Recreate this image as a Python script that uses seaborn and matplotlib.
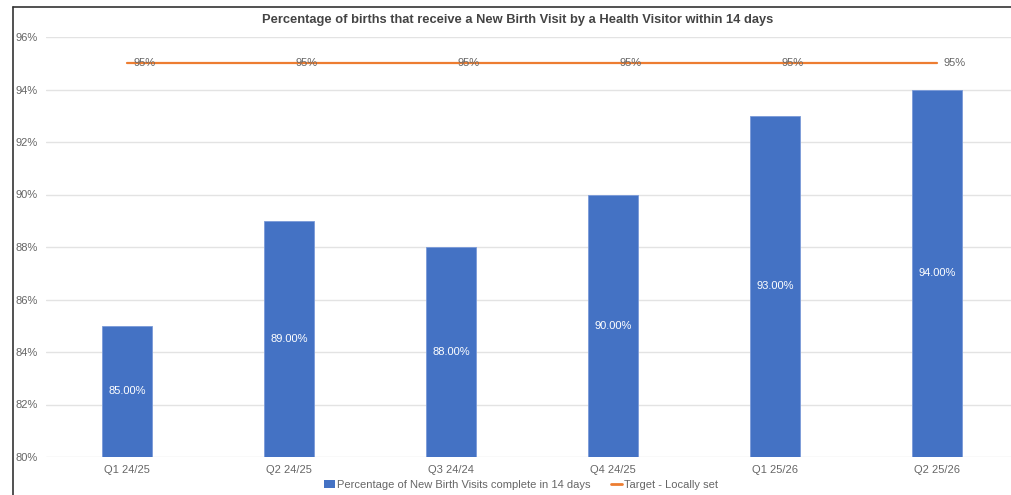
import matplotlib
matplotlib.use("Agg")
import matplotlib.pyplot as plt
from matplotlib.lines import Line2D
from matplotlib.patches import Patch
import seaborn as sns
import pandas as pd

quarters = ["Q1 24/25", "Q2 24/25", "Q3 24/24", "Q4 24/25", "Q1 25/26", "Q2 25/26"]
visits_pct = [85, 89, 88, 90, 93, 94]
target_pct = [95, 95, 95, 95, 95, 95]
yticks = [80, 82, 84, 86, 88, 90, 92, 94, 96]

bar_color = "#4472C4"
line_color = "#ED7D31"
text_gray = "#666666"

sns.set_theme(style="white")
plt.rcParams["font.family"] = ["Liberation Sans", "DejaVu Sans"]

df = pd.DataFrame({"quarter": quarters, "visits": visits_pct, "target": target_pct})

fig = plt.figure(figsize=(10.12, 4.95), dpi=100)
ax = fig.add_axes([46 / 1012, 1 - 457 / 495, 972 / 1012, 420 / 495])

sns.barplot(data=df, x="quarter", y="visits", color=bar_color, width=0.31,
            saturation=1, edgecolor="#7a9ad8", linewidth=0.6, ax=ax, zorder=2)
ax.bar_label(ax.containers[0], labels=[f"{v:.2f}%" for v in visits_pct],
             label_type="center", color="white", fontsize=8)

sns.lineplot(data=df, x="quarter", y="target", color=line_color, linewidth=1.6,
             ax=ax, zorder=3)
for i, v in enumerate(target_pct):
    ax.annotate(f"{v}%", (i, v), xytext=(13, 0), textcoords="offset points",
                ha="center", va="center", fontsize=8, color=text_gray, zorder=4)

ax.set_ylim(80, 96)
ax.set_xlim(-0.5, 5.5)
ax.set_yticks(yticks)
ax.set_yticklabels([f"{t}%" for t in yticks])
ax.yaxis.grid(True, color="#e3e3e3", linewidth=1)
ax.set_axisbelow(True)
for s in ax.spines.values():
    s.set_visible(False)
ax.tick_params(axis="both", length=0, labelsize=8, colors=text_gray)
ax.tick_params(axis="y", pad=6)
ax.tick_params(axis="x", pad=6)
ax.set_xlabel("")
ax.set_ylabel("")

fig.text(518 / 1012, 1 - 20 / 495, "Percentage of births that receive a New Birth Visit by a Health Visitor within 14 days",
         ha="center", va="center", fontsize=9.3, fontweight="bold", color="#444444")

handles = [Patch(facecolor=bar_color, edgecolor="none"),
           Line2D([0], [0], color=line_color, linewidth=2)]
labels = ["Percentage of New Birth Visits complete in 14 days", "Target - Locally set"]
fig.legend(handles, labels, loc="center", bbox_to_anchor=(521 / 1012, 1 - 485 / 495),
           ncol=2, frameon=False, fontsize=8, labelcolor=text_gray,
           handlelength=1.0, handleheight=0.7, handletextpad=0.2, columnspacing=1.8)

# outer frame
fig.add_artist(Line2D([13 / 1012, 13 / 1012], [0, 1 - 7 / 495], color="#333333", linewidth=1.2))
fig.add_artist(Line2D([13 / 1012, 1], [1 - 7 / 495, 1 - 7 / 495], color="#333333", linewidth=1.2))

fig.savefig("out.png", dpi=100)
